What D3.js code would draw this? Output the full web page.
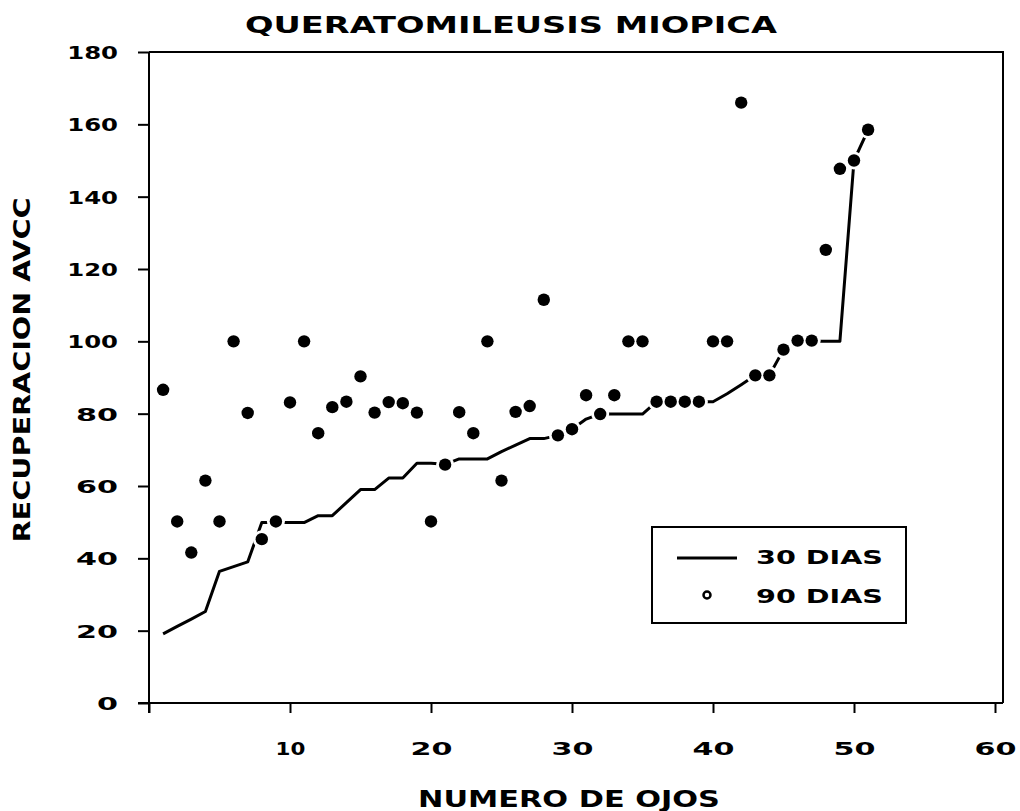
<!DOCTYPE html>
<html>
<head>
<meta charset="utf-8">
<script src="https://cdnjs.cloudflare.com/ajax/libs/d3/7.8.5/d3.min.js"></script>
<style>
  body { margin:0; background:#fff; }
  text { font-family:"DejaVu Sans", sans-serif; font-weight:bold; fill:#000; }
</style>
</head>
<body>
<svg id="board" width="1020" height="811"></svg>
<script>
// numero de ojo
var ojos = [1,2,3,4,5,6,7,8,9,10,11,12,13,14,15,16,17,18,19,20,21,22,23,24,25,
            26,27,28,29,30,31,32,33,34,35,36,37,38,39,40,41,42,43,44,45,46,47,48,49,50,51];
// recuperacion a los 30 dias (linea)
var dias30 = [19.1,21.2,23.2,25.3,36.4,37.7,39.0,49.9,49.9,49.9,49.9,51.8,51.8,55.4,59.0,
              59.0,62.2,62.2,66.3,66.3,66.0,67.5,67.5,67.5,69.5,71.3,73.1,73.1,74.0,75.7,
              78.5,79.9,79.9,79.9,79.9,83.3,83.3,83.3,83.3,83.3,85.5,88.0,90.6,90.6,97.7,
              100,100,100,100,150,158.5];
// recuperacion a los 90 dias (puntos)
var dias90 = [86.6,50.2,41.6,61.5,50.2,100,80.2,45.3,50.2,83.1,100,74.6,81.8,83.3,90.3,
              80.3,83.2,82.9,80.3,50.2,65.9,80.4,74.6,100,61.5,80.5,82.1,111.5,74.0,75.7,
              85.1,79.9,85.1,100,100,83.3,83.3,83.3,83.3,100,100,166,90.6,90.6,97.7,
              100.2,100.2,125.3,147.7,150,158.5];
var xTicks = [0,10,20,30,40,50,60];
var yTicks = [0,20,40,60,80,100,120,140,160,180];
var leyenda = ["30 DIAS","90 DIAS"];

var board = d3.select("#board");
board.append("rect").attr("width",1020).attr("height",811).attr("fill","white");

var x = d3.scaleLinear().domain([0,60]).range([149,995]);
var y = d3.scaleLinear().domain([0,180]).range([703,52]);

// ancho aproximado de los digitos de la fuente original
function ancho(s, w)
{
  var total = 0;
  for(var i=0;i<s.length;i++)
    total += (s[i]=="1") ? w*0.42 : (s[i]==" " ? w*0.6 : w);
  return total;
}

// marco
board.append("path")
  .attr("d","M149,52 L1003,52 L1003,703")
  .attr("fill","none").attr("stroke","black").attr("stroke-width",2);

// eje x
var gx = board.append("g").attr("transform","translate(0,703)")
  .call(d3.axisBottom(x).tickValues(xTicks).tickSize(10).tickSizeOuter(0).tickFormat(function(d){ return d==0 ? "" : d; }));
gx.select(".domain").remove();
board.append("line").attr("x1",138).attr("x2",1003).attr("y1",703).attr("y2",703)
  .attr("stroke","black").attr("stroke-width",2);
gx.selectAll(".tick line").attr("stroke","black").attr("stroke-width",2);
gx.selectAll(".tick text")
  .attr("y",39).attr("font-size",18).attr("font-family",null)
  .attr("textLength",function(d){ return ancho(String(d),21); })
  .attr("lengthAdjust","spacingAndGlyphs");

// eje y
var gy = board.append("g").attr("transform","translate(149,0)")
  .call(d3.axisLeft(y).tickValues(yTicks).tickSize(11).tickSizeOuter(0));
gy.select(".domain").remove();
board.append("line").attr("x1",149).attr("x2",149).attr("y1",52).attr("y2",713)
  .attr("stroke","black").attr("stroke-width",2);
gy.selectAll(".tick line").attr("stroke","black").attr("stroke-width",2);
gy.selectAll(".tick text")
  .attr("x",-31).attr("dy","0.36em").attr("font-size",18).attr("font-family",null)
  .attr("textLength",function(d){ return ancho(String(d),21); })
  .attr("lengthAdjust","spacingAndGlyphs");

// linea 30 dias
var linea = d3.line()
  .x(function(d,i){ return x(ojos[i]); })
  .y(function(d){ return y(d); });
board.append("path")
  .datum(dias30)
  .attr("d",linea)
  .attr("fill","none").attr("stroke","black").attr("stroke-width",3)
  .attr("stroke-linejoin","round");

// puntos 90 dias (con halo blanco como el original)
board.append("g").selectAll("circle")
  .data(dias90).enter().append("circle")
  .attr("cx",function(d,i){ return x(ojos[i]); })
  .attr("cy",function(d){ return y(d); })
  .attr("r",9).attr("fill","white");
board.append("g").selectAll("circle")
  .data(dias90).enter().append("circle")
  .attr("cx",function(d,i){ return x(ojos[i]); })
  .attr("cy",function(d){ return y(d); })
  .attr("r",6.2).attr("fill","black");

// leyenda
board.append("rect")
  .attr("x",652).attr("y",527).attr("width",254).attr("height",96)
  .attr("fill","white").attr("stroke","black").attr("stroke-width",2);
board.append("line").attr("x1",677).attr("x2",737).attr("y1",558).attr("y2",558)
  .attr("stroke","black").attr("stroke-width",3);
board.append("circle").attr("cx",707).attr("cy",595).attr("r",3.5)
  .attr("fill","white").attr("stroke","black").attr("stroke-width",2.5);
board.selectAll("text.ley")
  .data(leyenda).enter().append("text")
  .attr("class","ley")
  .attr("x",756).attr("y",function(d,i){ return 564 + i*39; })
  .attr("font-size",20)
  .attr("textLength",127).attr("lengthAdjust","spacingAndGlyphs")
  .text(function(d){ return d; });

// titulos
board.append("text")
  .attr("x",511).attr("y",33).attr("text-anchor","middle")
  .attr("font-size",23)
  .attr("textLength",532).attr("lengthAdjust","spacingAndGlyphs")
  .text("QUERATOMILEUSIS  MIOPICA");
board.append("text")
  .attr("x",569).attr("y",807).attr("text-anchor","middle")
  .attr("font-size",23)
  .attr("textLength",302).attr("lengthAdjust","spacingAndGlyphs")
  .text("NUMERO  DE  OJOS");
board.append("text")
  .attr("transform","translate(30,370) rotate(-90)")
  .attr("text-anchor","middle")
  .attr("font-size",23)
  .attr("textLength",345).attr("lengthAdjust","spacingAndGlyphs")
  .text("RECUPERACION  AVCC");
</script>
</body>
</html>
